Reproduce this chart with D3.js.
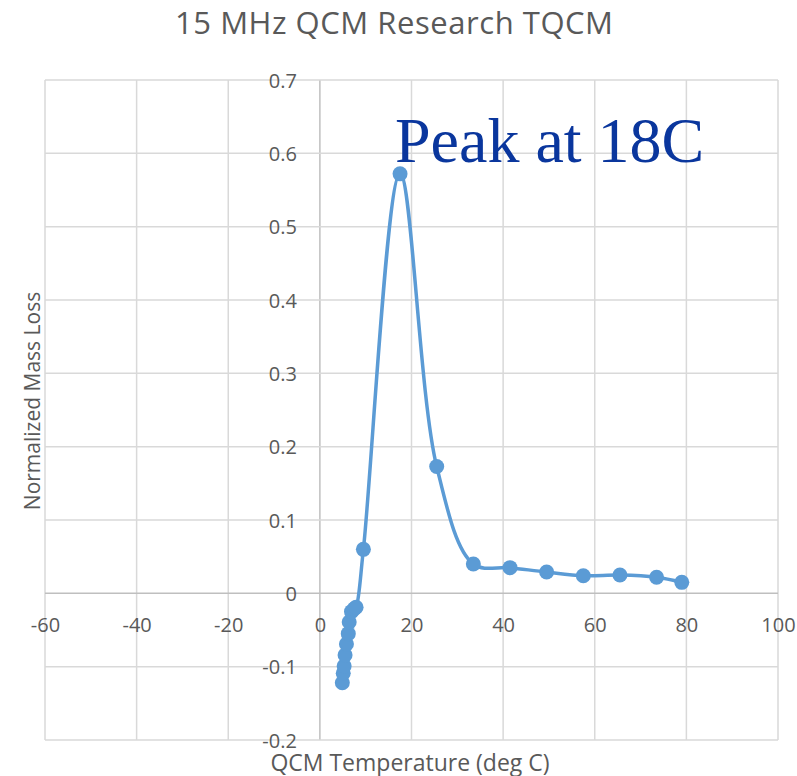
<!DOCTYPE html>
<html>
<head>
<meta charset="utf-8">
<script src="https://cdn.jsdelivr.net/npm/d3@7"></script>
<style>
  body { margin: 0; background: #fff; }
</style>
</head>
<body>
<div id="chart"></div>
<script>
// Data
var tempC = [4.9, 5.1, 5.3, 5.5, 5.8, 6.2, 6.4, 6.9, 7.5, 7.9, 9.5, 17.5, 25.5, 33.5, 41.5, 49.5, 57.5, 65.5, 73.5, 79.0];
var massLoss = [-0.122, -0.109, -0.099, -0.084, -0.069, -0.055, -0.039, -0.025, -0.021, -0.019, 0.060, 0.572, 0.173, 0.040, 0.035, 0.029, 0.024, 0.025, 0.022, 0.015];
var xTicks = [-60, -40, -20, 0, 20, 40, 60, 80, 100];
var yTicks = [-0.2, -0.1, 0, 0.1, 0.2, 0.3, 0.4, 0.5, 0.6, 0.7];

var attrs = {
    svgWidth: 797,
    svgHeight: 776,
    plotLeft: 45,
    plotRight: 778,
    plotTop: 80,
    plotBottom: 740,
    defaultFont: '"Open Sans", "Noto Sans", sans-serif',
    textFill: '#595959',
    gridColor: '#d9d9d9',
    axisColor: '#bfbfbf',
    lineColor: '#5b9bd5',
    noteColor: '#0a369d'
};

var svg = d3.select('#chart').append('svg')
    .attr('width', attrs.svgWidth)
    .attr('height', attrs.svgHeight)
    .attr('font-family', attrs.defaultFont);

/*################################## SCALES ####################################### */
var x = d3.scaleLinear().domain([-60, 100]).range([attrs.plotLeft, attrs.plotRight]);
var y = d3.scaleLinear().domain([-0.2, 0.7]).range([attrs.plotBottom, attrs.plotTop]);

var fmt = d => String(Math.round(d * 10) / 10);

//################################ GRID ######################
var grid = svg.append('g').attr('class', 'grid');

grid.selectAll('.vline').data(xTicks).enter().append('line')
    .attr('class', 'vline')
    .attr('x1', d => x(d)).attr('x2', d => x(d))
    .attr('y1', y(0.7)).attr('y2', y(-0.2))
    .attr('stroke', d => d === 0 ? attrs.axisColor : attrs.gridColor)
    .attr('stroke-width', 1.5);

grid.selectAll('.hline').data(yTicks).enter().append('line')
    .attr('class', 'hline')
    .attr('x1', x(-60)).attr('x2', x(100))
    .attr('y1', d => y(d)).attr('y2', d => y(d))
    .attr('stroke', d => d === 0 ? attrs.axisColor : attrs.gridColor)
    .attr('stroke-width', 1.5);

//################################ AXES ######################
var xAxis = svg.append('g')
    .attr('transform', 'translate(0,' + y(0) + ')')
    .call(d3.axisBottom(x).tickValues(xTicks).tickSize(0).tickFormat(fmt));
xAxis.select('.domain').remove();
xAxis.selectAll('text')
    .attr('y', 32).attr('dy', '0.35em')
    .attr('fill', attrs.textFill)
    .attr('font-size', 20)
    .attr('font-family', attrs.defaultFont);

var yAxis = svg.append('g')
    .attr('transform', 'translate(' + x(0) + ',0)')
    .call(d3.axisLeft(y).tickValues(yTicks).tickSize(0).tickFormat(fmt));
yAxis.select('.domain').remove();
yAxis.selectAll('text')
    .attr('x', -23).attr('dy', '0.35em')
    .attr('fill', attrs.textFill)
    .attr('font-size', 20)
    .attr('font-family', attrs.defaultFont);

//################################ SERIES ######################
var points = tempC.map((t, i) => [t, massLoss[i]]);

var line = d3.line()
    .x(d => x(d[0]))
    .y(d => y(d[1]))
    .curve(d3.curveCatmullRom.alpha(0.5));

svg.append('path')
    .datum(points)
    .attr('d', line)
    .attr('fill', 'none')
    .attr('stroke', attrs.lineColor)
    .attr('stroke-width', 3.5);

svg.selectAll('.dot').data(points).enter().append('circle')
    .attr('class', 'dot')
    .attr('cx', d => x(d[0]))
    .attr('cy', d => y(d[1]))
    .attr('r', 7.5)
    .attr('fill', attrs.lineColor);

//################################ TEXTS ######################
svg.append('text')
    .attr('x', 394).attr('y', 34)
    .attr('text-anchor', 'middle')
    .attr('font-size', 31)
    .attr('textLength', 438)
    .attr('lengthAdjust', 'spacing')
    .attr('fill', attrs.textFill)
    .text('15 MHz QCM Research TQCM');

svg.append('text')
    .attr('transform', 'translate(40,401) rotate(-90)')
    .attr('text-anchor', 'middle')
    .attr('font-size', 21)
    .attr('fill', attrs.textFill)
    .text('Normalized Mass Loss');

svg.append('text')
    .attr('x', 410).attr('y', 771)
    .attr('text-anchor', 'middle')
    .attr('font-size', 23)
    .attr('fill', attrs.textFill)
    .text('QCM Temperature (deg C)');

svg.append('text')
    .attr('x', 395).attr('y', 162)
    .attr('font-family', '"Liberation Serif", "DejaVu Serif", serif')
    .attr('font-size', 64)
    .attr('fill', attrs.noteColor)
    .text('Peak at 18C');
</script>
</body>
</html>
